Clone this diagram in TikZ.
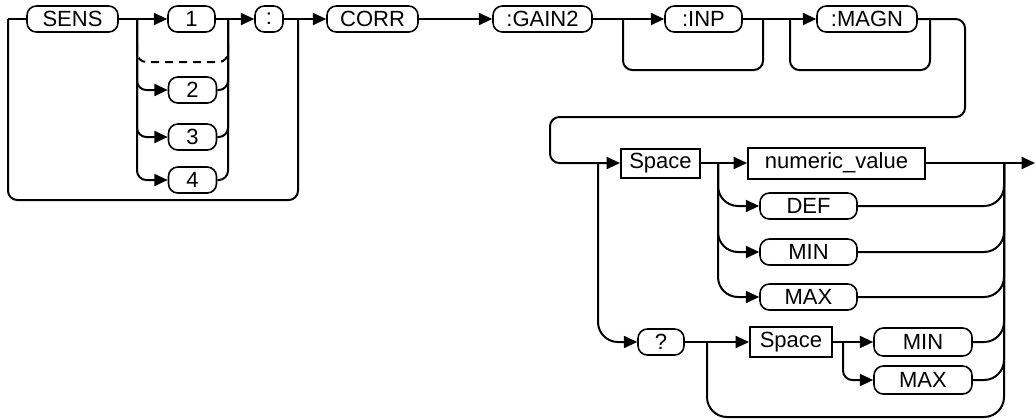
\documentclass[tikz,border=0pt]{standalone}
\usepackage{fontspec}
\setmainfont{Liberation Sans}
\usetikzlibrary{arrows.meta}

\tikzset{
  kw/.style={draw, line width=1.2pt, rounded corners=7pt, minimum height=19.5pt, inner sep=0pt},
  arg/.style={draw, line width=1.5pt, rectangle, minimum height=22pt, inner sep=0pt},
  rail/.style={rounded corners=7pt},
  wide/.style={rounded corners=15pt},
}

\begin{document}
\begin{tikzpicture}[x=0.75pt, y=-0.75pt, line width=1.5pt, >={Triangle[length=10pt,width=9pt]},
    font=\fontsize{16.5}{19}\selectfont]
  \useasboundingbox (0,0) rectangle (1036,419);
  % Keywords of the first row.
  \node[kw, minimum width=68.25pt] (sens) at (72.5,19) {SENS};
  \node[kw, minimum width=35.25pt] (one) at (191.5,19) {1};
  \node[kw, minimum width=36pt] (two) at (192.5,90) {2};
  \node[kw, minimum width=36pt] (three) at (192.5,137) {3};
  \node[kw, minimum width=36pt] (four) at (192.5,180) {4};
  \node[kw, minimum width=21pt] (colon) at (269,19) {:};
  \node[kw, minimum width=68.25pt] (corr) at (372.5,19) {CORR};
  \node[kw, minimum width=74.25pt] (gain) at (542.5,19) {:GAIN2};
  \node[kw, minimum width=57.75pt] (inp) at (703.5,19) {:INP};
  \node[kw, minimum width=75pt] (magn) at (867,19) {:MAGN};
  % Parameters of the second row.
  \node[arg, minimum width=59.25pt, minimum height=21.75pt] (space) at (660.5,163) {Space};
  \node[arg, minimum width=132.75pt, minimum height=23.25pt] (numval) at (836.5,163) {numeric\_value};
  \node[kw, minimum width=72.75pt] (def) at (808.5,206) {DEF};
  \node[kw, minimum width=72.75pt] (min) at (808.5,252) {MIN};
  \node[kw, minimum width=72.75pt] (max) at (808.5,297) {MAX};
  % Query branch.
  \node[kw, minimum width=34.5pt] (query) at (661,342) {?};
  \node[arg, minimum width=61.5pt] (space2) at (791,342) {Space};
  \node[kw, minimum width=73.5pt, minimum height=21pt] (min2) at (923,342) {MIN};
  \node[kw, minimum width=73.5pt, minimum height=21pt] (max2) at (923,380) {MAX};

  % Junctions on the rails.
  \coordinate (in) at (8,19);
  \coordinate (jl) at (137,19);
  \coordinate (jr) at (228,19);
  \coordinate (lp) at (298,19);
  \coordinate (dl) at (137,44);
  \coordinate (dr) at (228,44);
  \coordinate (ja) at (623,19);
  \coordinate (jb) at (763,19);
  \coordinate (jc) at (790,19);
  \coordinate (jd) at (930,19);
  \coordinate (jt) at (965,19);
  \coordinate (je) at (598,163);
  \coordinate (jf) at (718,163);
  \coordinate (jg) at (1004,163);
  \coordinate (out) at (1035,163);
  \coordinate (jh) at (707,342);
  \coordinate (ji) at (843,342);

  % First row.
  \draw (in) -- (sens);
  \draw[->] (sens) -- (one);
  \draw[->] (one) -- (colon);
  \draw[->] (colon) -- (corr);
  \draw[->] (corr) -- (gain);
  \draw[->] (gain) -- (inp);
  \draw[->] (inp) -- (magn);
  % Bypass round SENS and its suffix.
  \draw[rail] (in) -- ++(0,181) -| (lp);
  % Suffix 1 to 4.
  \draw[rail,->] (jl) |- (two.west);
  \draw[rail,->] (jl) |- (three.west);
  \draw[rail,->] (jl) |- (four.west);
  \draw[rail] (two.east) -| (jr);
  \draw[rail] (three.east) -| (jr);
  \draw[rail] (four.east) -| (jr);
  \draw[rail,dash pattern=on 6pt off 4.5pt] (dl) -- ++(0,18) -| (dr);
  % Optional :INP and :MAGN.
  \draw[rail] (ja) -- ++(0,51) -| (jb);
  \draw[rail] (jc) -- ++(0,51) -| (jd);
  % Wrap down to the second row.
  \draw[rail,->] (magn) -- (jt) -- ++(0,98) -- ++(-415,0) |- (space.west);

  % Second row.
  \draw[->] (space) -- (numval);
  \draw[->] (numval) -- (out);
  \draw[wide,->] (jf) |- (def.west);
  \draw[wide,->] (jf) |- (min.west);
  \draw[wide,->] (jf) |- (max.west);
  \draw[wide] (def.east) -| (jg);
  \draw[wide] (min.east) -| (jg);
  \draw[wide] (max.east) -| (jg);
  % Query form.
  \draw[wide,->] (je) |- (query.west);
  \draw[->] (query) -- (space2);
  \draw[->] (space2) -- (min2);
  \draw[rail,->] (ji) |- (max2.west);
  \draw[wide] (min2.east) -| (jg);
  \draw[wide] (max2.east) -| (jg);
  \draw[wide] (jh) -- ++(0,75) -| (jg);
\end{tikzpicture}
\end{document}
